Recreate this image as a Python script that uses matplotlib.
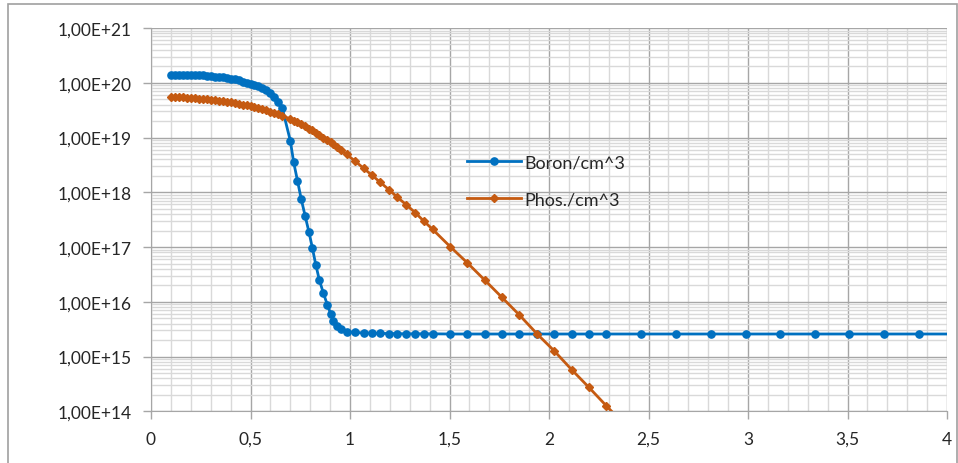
import matplotlib
matplotlib.use("Agg")
import matplotlib.pyplot as plt
from matplotlib.patches import Rectangle
from matplotlib.ticker import FixedLocator, FuncFormatter, LogLocator, NullFormatter

# depth (um), shared by both profiles
depth = [
    0.10, 0.12, 0.14, 0.16, 0.18, 0.20, 0.22, 0.24, 0.26, 0.28,
    0.30, 0.32, 0.34, 0.36, 0.38, 0.40, 0.42, 0.44, 0.46, 0.48,
    0.50, 0.52, 0.54, 0.56, 0.58, 0.60, 0.62, 0.64, 0.66,
    0.700, 0.717, 0.736, 0.755, 0.775, 0.794, 0.811, 0.828, 0.846, 0.866,
    0.886, 0.903, 0.917, 0.934, 0.955, 0.983,
    1.025, 1.068, 1.111, 1.153, 1.195, 1.238, 1.283, 1.327, 1.372, 1.416,
    1.503, 1.590, 1.676, 1.764, 1.851, 1.941, 2.027, 2.114, 2.200, 2.288,
    2.462, 2.638, 2.814, 2.988, 3.161, 3.335, 3.509, 3.685, 3.858, 4.032,
]

boron = [
    1.40e20, 1.40e20, 1.40e20, 1.40e20, 1.40e20, 1.39e20, 1.38e20, 1.37e20, 1.36e20, 1.34e20,
    1.32e20, 1.30e20, 1.28e20, 1.25e20, 1.22e20, 1.19e20, 1.16e20, 1.10e20, 1.05e20, 1.00e20,
    9.66e19, 9.23e19, 8.61e19, 7.94e19, 7.24e19, 6.46e19, 5.50e19, 4.47e19, 3.39e19,
    8.75e18, 3.52e18, 1.63e18, 7.50e17, 3.64e17, 1.86e17, 9.60e16, 4.75e16, 2.50e16, 1.45e16,
    8.85e15, 6.00e15, 4.50e15, 3.65e15, 3.20e15, 2.85e15,
    2.75e15, 2.70e15, 2.68e15, 2.65e15, 2.63e15, 2.62e15, 2.60e15, 2.60e15, 2.60e15, 2.60e15,
    2.58e15, 2.58e15, 2.58e15, 2.58e15, 2.58e15, 2.58e15, 2.58e15, 2.58e15, 2.58e15, 2.58e15,
    2.58e15, 2.58e15, 2.58e15, 2.58e15, 2.58e15, 2.58e15, 2.58e15, 2.58e15, 2.58e15, 2.58e15,
]

phos = [
    5.56e19, 5.52e19, 5.47e19, 5.42e19, 5.36e19, 5.30e19, 5.22e19, 5.15e19, 5.07e19, 4.99e19,
    4.90e19, 4.81e19, 4.71e19, 4.60e19, 4.49e19, 4.37e19, 4.25e19, 4.12e19, 3.98e19, 3.85e19,
    3.72e19, 3.57e19, 3.43e19, 3.27e19, 3.12e19, 2.96e19, 2.81e19, 2.65e19, 2.49e19,
    2.19e19, 2.04e19, 1.91e19, 1.76e19, 1.60e19, 1.46e19, 1.35e19, 1.23e19, 1.12e19, 1.00e19,
    8.91e18, 8.13e18, 7.50e18, 6.76e18, 5.96e18, 4.90e18,
    3.72e18, 2.75e18, 2.04e18, 1.51e18, 1.12e18, 8.13e17, 5.89e17, 4.27e17, 2.95e17, 2.09e17,
    1.02e17, 5.13e16, 2.51e16, 1.20e16, 5.75e15, 2.57e15, 1.26e15, 5.75e14, 2.75e14, 1.26e14,
    2.80e13,
]

labels = ["Boron/cm^3", "Phos./cm^3"]
colors = ["#0070C0", "#C55A11"]

x_ticks = [0, 0.5, 1, 1.5, 2, 2.5, 3, 3.5, 4]

plt.rcParams["font.family"] = ["Lato", "DejaVu Sans"]

fig = plt.figure(figsize=(9.58, 4.64), dpi=100)
ax = fig.add_axes([151 / 958, 1 - 412.3 / 464, 796 / 958, 383.3 / 464])

ax.plot(depth, boron, color=colors[0], lw=2.0, marker="o", ms=5.2,
        label=labels[0], clip_on=True, zorder=3)
ax.plot(depth[:len(phos)], phos, color=colors[1], lw=2.0, marker="D", ms=3.8,
        label=labels[1], clip_on=True, zorder=3)

ax.set_yscale("log")
ax.set_ylim(1e14, 1e21)
ax.set_xlim(0, 4)

# excel style ticks / grid
ax.xaxis.set_major_locator(FixedLocator(x_ticks))
ax.xaxis.set_minor_locator(FixedLocator([i / 10 for i in range(41)]))
ax.yaxis.set_major_locator(LogLocator(base=10, numticks=20))
ax.yaxis.set_minor_locator(LogLocator(base=10, subs=range(2, 10), numticks=20))
ax.yaxis.set_minor_formatter(NullFormatter())

def sci_comma(v, pos):
    return ("%.2E" % v).replace(".", ",")

def dec_comma(v, pos):
    s = ("%g" % v)
    return s.replace(".", ",")

ax.yaxis.set_major_formatter(FuncFormatter(sci_comma))
ax.xaxis.set_major_formatter(FuncFormatter(dec_comma))

ax.grid(which="major", color="#A6A6A6", lw=1.0, zorder=0)
ax.grid(which="minor", color="#D9D9D9", lw=1.0, zorder=0)
ax.set_axisbelow(True)

ax.tick_params(which="major", length=6, width=1, color="#A6A6A6",
               labelsize=12.5, labelcolor="#262626", pad=8)
ax.tick_params(which="minor", length=0)

for side in ["top", "right"]:
    ax.spines[side].set_visible(False)
for side in ["left", "bottom"]:
    ax.spines[side].set_color("#A6A6A6")

leg = ax.legend(loc="upper left", bbox_to_anchor=(0.388, 0.69), frameon=False,
                fontsize=13, handlelength=3.0, handletextpad=0.15,
                labelspacing=1.2, borderaxespad=0)
for t in leg.get_texts():
    t.set_color("#262626")

# chart frame (bottom edge lies below the picture, as in the screenshot)
fig.patches.append(Rectangle((8 / 958, -0.05), 949 / 958, 1.05 - 5 / 464,
                             transform=fig.transFigure, fill=False,
                             edgecolor="#A0A0A0", lw=1.2))

fig.savefig("out.png", dpi=100)
